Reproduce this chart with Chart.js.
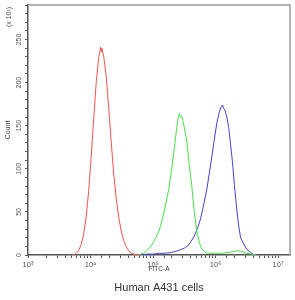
<!DOCTYPE html>
<html>
<head>
<meta charset="utf-8">
<script src="https://cdn.jsdelivr.net/npm/chart.js@4/dist/chart.umd.min.js"></script>
<style>
  html, body { margin: 0; padding: 0; background: #fff; }
</style>
</head>
<body>
<canvas id="c" width="295" height="300"></canvas>
<script>
// FITC-A positions are kept as decade exponents (10^x), counts in units of 10
const redX   = [3.70, 3.74, 3.77, 3.81, 3.85, 3.89, 3.93, 3.97, 4.01, 4.05, 4.09, 4.13, 4.15, 4.16, 4.17, 4.18, 4.19, 4.21, 4.25, 4.29, 4.33, 4.37, 4.41, 4.45, 4.49, 4.53, 4.57, 4.61, 4.65, 4.69, 4.75, 4.80];
const redY   = [0, 0, 2, 5, 12, 24, 44, 74, 113, 157, 199, 229, 236, 241, 236, 240, 237, 231, 208, 172, 132, 95, 66, 44, 28, 17, 10, 5, 2, 1, 0, 0];

const greenX = [4.76, 4.80, 4.85, 4.90, 4.95, 5.00, 5.05, 5.10, 5.15, 5.20, 5.25, 5.30, 5.35, 5.38, 5.40, 5.42, 5.44, 5.46, 5.48, 5.50, 5.52, 5.54, 5.56, 5.58, 5.60, 5.62, 5.64, 5.66, 5.68, 5.70, 5.74, 5.78, 5.82, 5.86, 5.90, 6.00, 6.10, 6.20, 6.30, 6.36, 6.42, 6.50, 6.58, 6.64];
const greenY = [0, 1, 2, 5, 9, 14, 21, 29, 42, 58, 76, 100, 130, 148, 158, 164, 160, 161, 155, 148, 140, 132, 118, 104, 92, 80, 64, 50, 38, 28, 14, 7, 4, 2, 2, 2, 2, 3, 4, 5, 4, 2, 1, 0];

const blueX  = [4.80, 4.90, 5.00, 5.10, 5.20, 5.30, 5.40, 5.50, 5.56, 5.60, 5.66, 5.72, 5.76, 5.80, 5.86, 5.90, 5.94, 5.98, 6.02, 6.06, 6.09, 6.11, 6.13, 6.15, 6.18, 6.21, 6.24, 6.27, 6.30, 6.34, 6.37, 6.40, 6.44, 6.48, 6.52, 6.56, 6.60, 6.64];
const blueY  = [0, 1, 1, 2, 2, 3, 5, 8, 11, 15, 22, 33, 42, 55, 76, 95, 114, 134, 153, 166, 172, 174, 170, 168, 160, 148, 128, 108, 82, 52, 34, 20, 14, 9, 5, 3, 1, 0];

const xMin = 1e3;
const xMax = 1.55e7;
const yMax = 290;
const yLabelTicks = [0, 50, 100, 150, 200, 250];
const sup = { 3: '\u00b3', 4: '\u2074', 5: '\u2075', 6: '\u2076', 7: '\u2077' };

const FONT = "'Liberation Sans', 'DejaVu Sans', Arial, sans-serif";

function toPoints(xs, ys) {
  return xs.map((e, i) => ({ x: Math.pow(10, e), y: ys[i] }));
}

const framePlugin = {
  id: 'frame',
  afterDraw(chart) {
    const { ctx, chartArea: a } = chart;
    ctx.save();
    ctx.strokeStyle = '#9a9a9a';
    ctx.lineWidth = 1.5;
    ctx.beginPath();
    ctx.moveTo(a.left, a.top);
    ctx.lineTo(a.right, a.top);
    ctx.lineTo(a.right, a.bottom);
    ctx.stroke();
    // multiplier note at top of the count axis
    ctx.translate(9.5, a.top + 12);
    ctx.rotate(-Math.PI / 2);
    ctx.fillStyle = '#444';
    ctx.font = '7px ' + FONT;
    ctx.textAlign = 'center';
    ctx.textBaseline = 'middle';
    ctx.fillText('(x 10\u00b9)', 0, 0);
    ctx.restore();
  }
};

const line = (data, color) => ({
  data: data,
  borderColor: color,
  borderWidth: 1,
  pointRadius: 0,
  tension: 0,
  fill: false
});

new Chart(document.getElementById('c'), {
  type: 'line',
  data: {
    datasets: [
      line(toPoints(redX, redY), 'rgb(252,80,80)'),
      line(toPoints(greenX, greenY), 'rgb(70,225,70)'),
      line(toPoints(blueX, blueY), 'rgb(65,65,220)')
    ]
  },
  options: {
    responsive: false,
    animation: false,
    layout: { padding: { top: 5, right: 5, left: 0, bottom: 0 } },
    plugins: { legend: { display: false }, tooltip: { enabled: false } },
    scales: {
      x: {
        type: 'logarithmic',
        position: 'bottom',
        min: xMin,
        max: xMax,
        afterFit: s => { s.height = 24; },
        grid: { drawOnChartArea: false, drawTicks: true, tickLength: 3, tickColor: '#555', tickWidth: 1 },
        border: { color: '#555', width: 1.5 },
        ticks: {
          autoSkip: false,
          maxRotation: 0,
          minRotation: 0,
          padding: 2.5,
          color: '#555',
          font: { size: 7.5, family: FONT },
          callback: v => {
            if (v > 1.01e7) return null;
            const e = Math.round(Math.log10(v));
            return Math.abs(v - Math.pow(10, e)) < 1e-6 * v ? '10' + sup[e] : '';
          }
        },
        title: { display: true, text: 'FITC-A', color: '#444', font: { size: 6.5, family: FONT }, padding: { top: 0, bottom: 5.5 } }
      },
      x2: {
        type: 'linear',
        position: 'bottom',
        weight: 1,
        afterFit: s => { s.height = 21; },
        grid: { display: false },
        border: { display: false },
        ticks: { display: false },
        title: { display: true, text: 'Human A431 cells', color: '#333', font: { size: 11, family: FONT }, padding: { top: 0, bottom: 5 } }
      },
      y: {
        type: 'linear',
        min: 0,
        max: yMax,
        afterFit: s => { s.width = 28; },
        grid: { drawOnChartArea: false, tickLength: 3, tickColor: '#555' },
        border: { color: '#555', width: 1.5 },
        ticks: {
          stepSize: 10,
          autoSkip: false,
          minRotation: 90,
          maxRotation: 90,
          padding: 0,
          crossAlign: 'center',
          color: '#555',
          font: { size: 7, family: FONT },
          callback: v => yLabelTicks.includes(v) ? String(v) : ''
        },
        title: { display: true, text: 'Count', color: '#444', font: { size: 7, family: FONT }, padding: { top: 4, bottom: 0 } }
      }
    }
  },
  plugins: [framePlugin]
});
</script>
</body>
</html>
